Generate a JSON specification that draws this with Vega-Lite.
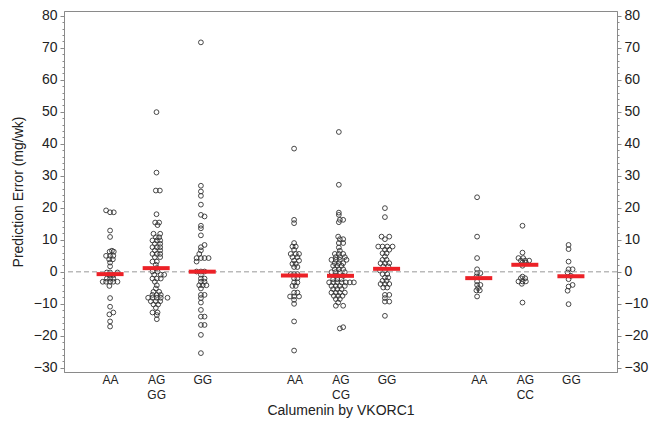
{
  "$schema": "https://vega.github.io/schema/vega-lite/v6.json",
  "width": 553,
  "height": 361,
  "autosize": "none",
  "padding": {"left": 64, "top": 11, "right": 33, "bottom": 50},
  "background": "white",
  "config": {
    "font": "Liberation Sans",
    "view": {"stroke": "#8a8a8a", "strokeWidth": 1}
  },
  "datasets": {
    "points": [
      {"x":0.913,"y":19.2},{"x":1.0,"y":18.6},{"x":1.08,"y":18.6},
      {"x":1.0,"y":12.9},{"x":1.0,"y":10.9},
      {"x":0.99,"y":6.3},{"x":1.04,"y":6.6},{"x":1.08,"y":6.3},
      {"x":0.913,"y":5.0},{"x":1.0,"y":5.0},{"x":1.07,"y":5.0},
      {"x":0.98,"y":3.9},{"x":1.06,"y":3.9},
      {"x":1.0,"y":2.9},{"x":1.0,"y":1.7},
      {"x":0.93,"y":-0.2},{"x":1.0,"y":-0.2},{"x":1.16,"y":-0.2},
      {"x":0.985,"y":-1.0},{"x":1.07,"y":-1.0},
      {"x":0.93,"y":-2.1},{"x":1.0,"y":-2.1},{"x":1.07,"y":-2.1},
      {"x":0.84,"y":-3.1},{"x":0.913,"y":-3.1},{"x":1.0,"y":-3.1},{"x":1.07,"y":-3.1},{"x":1.16,"y":-3.1},
      {"x":0.985,"y":-4.4},{"x":1.0,"y":-8.2},{"x":1.0,"y":-10.9},{"x":1.07,"y":-12.7},{"x":0.985,"y":-13.3},{"x":1.0,"y":-15.5},{"x":1.0,"y":-17.1},

      {"x":2.007,"y":49.9},{"x":2.007,"y":31.0},{"x":1.993,"y":25.4},{"x":2.08,"y":25.4},
      {"x":2.007,"y":18.0},
      {"x":1.978,"y":15.4},{"x":2.065,"y":15.4},{"x":2.03,"y":14.6},
      {"x":1.942,"y":11.9},{"x":2.087,"y":11.9},
      {"x":1.993,"y":10.8},{"x":2.065,"y":10.8},
      {"x":1.92,"y":9.8},{"x":2.014,"y":9.8},{"x":2.087,"y":9.8},
      {"x":1.971,"y":8.75},{"x":2.087,"y":8.75},
      {"x":1.92,"y":7.7},{"x":2.014,"y":7.7},{"x":2.087,"y":7.7},
      {"x":1.971,"y":6.7},{"x":2.087,"y":6.7},
      {"x":1.92,"y":5.6},{"x":2.014,"y":5.6},{"x":2.087,"y":5.6},
      {"x":1.971,"y":4.6},{"x":2.087,"y":4.6},
      {"x":1.92,"y":3.2},{"x":2.014,"y":3.2},
      {"x":1.993,"y":2.2},{"x":2.014,"y":1.2},
      {"x":1.92,"y":0.1},{"x":2.03,"y":0.1},
      {"x":1.957,"y":-0.9},{"x":2.1,"y":-0.9},{"x":2.174,"y":-0.9},
      {"x":1.92,"y":-2.1},{"x":2.014,"y":-2.1},{"x":2.1,"y":-2.1},
      {"x":1.971,"y":-3.1},{"x":2.014,"y":-4.2},{"x":1.993,"y":-5.2},
      {"x":1.942,"y":-6.25},{"x":2.065,"y":-6.25},
      {"x":1.92,"y":-7.2},{"x":2.014,"y":-7.2},{"x":2.1,"y":-7.2},
      {"x":1.826,"y":-8.1},{"x":1.92,"y":-8.1},{"x":2.014,"y":-8.1},{"x":2.1,"y":-8.1},{"x":2.246,"y":-8.1},
      {"x":1.884,"y":-9.2},{"x":1.993,"y":-9.2},{"x":2.087,"y":-9.2},
      {"x":1.942,"y":-10.2},{"x":2.043,"y":-10.2},
      {"x":1.993,"y":-11.25},
      {"x":1.92,"y":-12.7},{"x":2.03,"y":-12.7},
      {"x":2.014,"y":-13.5},{"x":2.014,"y":-14.8},

      {"x":2.971,"y":71.7},{"x":2.971,"y":26.9},{"x":2.971,"y":25.1},{"x":2.971,"y":23.75},{"x":2.971,"y":21.0},
      {"x":2.971,"y":17.8},{"x":3.05,"y":17.3},
      {"x":2.971,"y":14.4},{"x":2.971,"y":13.6},{"x":2.971,"y":11.4},
      {"x":3.05,"y":8.4},{"x":2.971,"y":7.7},{"x":2.971,"y":6.7},{"x":2.935,"y":5.6},
      {"x":2.877,"y":4.3},{"x":2.971,"y":4.3},{"x":3.05,"y":4.3},{"x":3.138,"y":4.3},
      {"x":2.877,"y":3.2},
      {"x":2.877,"y":0.1},{"x":2.971,"y":0.1},{"x":3.05,"y":0.1},
      {"x":2.971,"y":-0.9},
      {"x":2.971,"y":-2.1},{"x":3.05,"y":-2.1},
      {"x":2.971,"y":-3.1},{"x":3.05,"y":-3.1},
      {"x":2.935,"y":-4.2},{"x":3.01,"y":-4.2},{"x":3.09,"y":-4.2},
      {"x":2.971,"y":-5.2},
      {"x":2.971,"y":-7.2},{"x":3.05,"y":-7.2},
      {"x":2.971,"y":-8.2},{"x":2.971,"y":-9.6},{"x":2.971,"y":-11.9},
      {"x":2.971,"y":-14.0},{"x":3.05,"y":-14.0},
      {"x":2.971,"y":-16.6},{"x":3.05,"y":-16.6},
      {"x":2.971,"y":-19.7},{"x":2.971,"y":-25.4},

      {"x":4.993,"y":38.5},{"x":4.993,"y":16.25},{"x":4.993,"y":15.2},{"x":4.993,"y":9.0},
      {"x":4.957,"y":7.9},{"x":5.029,"y":7.9},
      {"x":4.993,"y":6.9},
      {"x":4.92,"y":5.6},{"x":5.029,"y":5.6},{"x":5.1,"y":5.6},
      {"x":4.957,"y":4.6},{"x":5.065,"y":4.6},
      {"x":4.993,"y":3.5},{"x":5.1,"y":3.5},
      {"x":4.957,"y":2.5},{"x":5.029,"y":2.5},
      {"x":4.993,"y":1.5},{"x":5.065,"y":1.5},
      {"x":4.92,"y":-0.7},{"x":4.993,"y":-0.7},{"x":5.065,"y":-0.7},
      {"x":4.993,"y":-2.0},{"x":5.065,"y":-2.0},
      {"x":4.993,"y":-3.3},{"x":5.065,"y":-3.3},
      {"x":4.957,"y":-4.4},{"x":5.029,"y":-4.4},
      {"x":4.993,"y":-6.5},{"x":5.065,"y":-6.5},
      {"x":4.906,"y":-7.7},{"x":4.993,"y":-7.7},{"x":5.1,"y":-7.7},
      {"x":4.993,"y":-8.75},{"x":4.993,"y":-10.0},{"x":4.993,"y":-15.5},{"x":4.993,"y":-24.6},

      {"x":5.964,"y":43.7},{"x":5.964,"y":27.2},{"x":5.964,"y":18.5},{"x":5.964,"y":17.8},
      {"x":5.986,"y":16.25},{"x":6.058,"y":16.25},{"x":5.964,"y":15.5},
      {"x":5.949,"y":11.0},
      {"x":5.986,"y":10.2},{"x":6.058,"y":10.2},
      {"x":5.964,"y":9.0},{"x":6.058,"y":9.0},
      {"x":5.964,"y":7.6},{"x":5.986,"y":6.6},
      {"x":5.877,"y":5.6},{"x":5.964,"y":5.6},{"x":6.058,"y":5.6},
      {"x":5.899,"y":4.6},{"x":5.986,"y":4.6},{"x":6.094,"y":4.6},
      {"x":5.804,"y":3.75},{"x":5.899,"y":3.75},{"x":5.986,"y":3.75},{"x":6.13,"y":3.75},
      {"x":5.877,"y":2.7},{"x":5.964,"y":2.7},{"x":6.058,"y":2.7},
      {"x":5.841,"y":1.9},{"x":5.928,"y":1.9},{"x":6.022,"y":1.9},
      {"x":5.877,"y":0.8},{"x":5.964,"y":0.8},{"x":6.058,"y":0.8},
      {"x":5.804,"y":-0.1},{"x":5.899,"y":-0.1},{"x":5.986,"y":-0.1},{"x":6.094,"y":-0.1},
      {"x":5.899,"y":-1.25},{"x":6.058,"y":-1.25},
      {"x":5.841,"y":-2.3},{"x":5.928,"y":-2.3},{"x":6.022,"y":-2.3},
      {"x":5.754,"y":-3.3},{"x":5.841,"y":-3.3},{"x":5.928,"y":-3.3},{"x":6.022,"y":-3.3},{"x":6.116,"y":-3.3},{"x":6.203,"y":-3.3},{"x":6.29,"y":-3.3},
      {"x":5.804,"y":-4.4},{"x":5.899,"y":-4.4},{"x":5.986,"y":-4.4},{"x":6.094,"y":-4.4},
      {"x":5.841,"y":-5.4},{"x":5.928,"y":-5.4},{"x":6.022,"y":-5.4},
      {"x":5.804,"y":-6.5},{"x":5.899,"y":-6.5},{"x":5.986,"y":-6.5},{"x":6.094,"y":-6.5},
      {"x":5.855,"y":-7.5},{"x":5.949,"y":-7.5},{"x":6.043,"y":-7.5},
      {"x":5.899,"y":-8.5},{"x":5.986,"y":-8.5},
      {"x":5.949,"y":-9.6},
      {"x":5.899,"y":-10.6},{"x":6.058,"y":-10.6},
      {"x":5.986,"y":-17.7},{"x":6.058,"y":-17.3},

      {"x":6.964,"y":19.9},{"x":6.964,"y":17.1},
      {"x":6.891,"y":11.0},{"x":7.058,"y":11.0},
      {"x":6.964,"y":10.2},
      {"x":6.819,"y":7.9},{"x":6.913,"y":7.9},{"x":7.014,"y":7.9},{"x":7.13,"y":7.9},
      {"x":6.964,"y":6.9},{"x":7.058,"y":6.9},
      {"x":6.913,"y":5.8},{"x":7.0,"y":5.8},
      {"x":6.964,"y":4.8},
      {"x":6.913,"y":3.75},{"x":7.0,"y":3.75},
      {"x":6.87,"y":2.7},{"x":6.964,"y":2.7},{"x":7.058,"y":2.7},
      {"x":6.928,"y":1.7},{"x":7.036,"y":1.7},
      {"x":6.855,"y":0.4},{"x":6.964,"y":0.4},
      {"x":6.913,"y":-0.7},{"x":7.014,"y":-0.7},
      {"x":6.964,"y":-1.8},{"x":7.036,"y":-1.8},
      {"x":6.913,"y":-2.8},{"x":7.0,"y":-2.8},
      {"x":6.87,"y":-3.8},{"x":6.964,"y":-3.8},{"x":7.058,"y":-3.8},
      {"x":6.928,"y":-4.9},{"x":7.014,"y":-4.9},
      {"x":6.964,"y":-7.2},{"x":7.058,"y":-7.2},
      {"x":6.964,"y":-8.2},
      {"x":6.964,"y":-9.3},{"x":7.058,"y":-9.3},
      {"x":6.964,"y":-13.75},

      {"x":8.964,"y":23.3},{"x":8.964,"y":11.0},{"x":8.964,"y":4.3},{"x":8.964,"y":0.8},
      {"x":8.964,"y":-0.4},{"x":9.036,"y":-0.4},
      {"x":8.949,"y":-1.5},{"x":8.964,"y":-3.0},
      {"x":8.964,"y":-4.1},{"x":9.036,"y":-4.1},
      {"x":8.986,"y":-5.1},
      {"x":8.949,"y":-5.8},{"x":9.022,"y":-5.8},
      {"x":8.964,"y":-7.7},

      {"x":9.949,"y":14.4},{"x":9.949,"y":6.0},
      {"x":9.862,"y":4.3},{"x":9.964,"y":4.3},
      {"x":9.913,"y":3.5},{"x":10.007,"y":3.5},{"x":10.094,"y":3.5},
      {"x":9.949,"y":2.9},{"x":10.022,"y":2.9},
      {"x":9.949,"y":1.9},
      {"x":9.949,"y":-1.5},
      {"x":9.913,"y":-2.0},{"x":10.007,"y":-2.0},
      {"x":9.862,"y":-3.0},{"x":9.949,"y":-3.0},{"x":10.022,"y":-3.0},
      {"x":9.935,"y":-3.75},
      {"x":9.949,"y":-9.6},

      {"x":10.949,"y":8.4},{"x":10.949,"y":7.1},{"x":10.949,"y":3.2},
      {"x":10.949,"y":0.8},{"x":11.036,"y":0.8},
      {"x":10.928,"y":-0.2},{"x":11.0,"y":-1.25},{"x":10.949,"y":-2.3},
      {"x":11.036,"y":-4.1},{"x":10.949,"y":-4.6},{"x":10.928,"y":-5.9},{"x":10.949,"y":-10.1}
    ],
    "medians": [
      {"x":1,"y":-0.72},{"x":2,"y":1.15},{"x":3,"y":0.05},
      {"x":5,"y":-1.15},{"x":6,"y":-1.25},{"x":7,"y":0.94},
      {"x":9,"y":-1.97},{"x":10,"y":2.2},{"x":11,"y":-1.35}
    ]
  },
  "layer": [
    {
      "data": {"name": "points"},
      "mark": {"type": "point", "shape": "circle", "filled": false, "stroke": "#333333", "strokeWidth": 0.9, "size": 23, "opacity": 1},
      "encoding": {
        "x": {
          "field": "x", "type": "quantitative",
          "scale": {"domain": [0, 12], "nice": false, "zero": false},
          "axis": {
            "values": [1, 2, 3, 5, 6, 7, 9, 10, 11],
            "labelExpr": "datum.value == 2 ? ['AG','GG'] : datum.value == 6 ? ['AG','CG'] : datum.value == 10 ? ['AG','CC'] : (datum.value == 1 || datum.value == 5 || datum.value == 9) ? 'AA' : 'GG'",
            "ticks": false, "grid": false, "labelFlush": false, "labelOverlap": false,
            "labelFontSize": 12, "labelPadding": 2, "labelLineHeight": 15, "labelColor": "#222222",
            "domainColor": "#8a8a8a",
            "title": "Calumenin by VKORC1", "titleFontSize": 14, "titleFontWeight": "normal", "titleColor": "#222222", "titlePadding": 3
          }
        },
        "y": {
          "field": "y", "type": "quantitative",
          "scale": {"domain": [-31.3, 81.5], "nice": false, "zero": false},
          "axis": {
            "orient": "left",
            "values": [-30,-28,-26,-24,-22,-20,-18,-16,-14,-12,-10,-8,-6,-4,-2,0,2,4,6,8,10,12,14,16,18,20,22,24,26,28,30,32,34,36,38,40,42,44,46,48,50,52,54,56,58,60,62,64,66,68,70,72,74,76,78,80],
            "labelExpr": "datum.value % 10 === 0 ? datum.label : ''",
            "tickSize": {"condition": {"test": "datum.value % 10 === 0", "value": 4}, "value": 2},
            "labelOverlap": false, "labelFlush": false, "grid": false,
            "labelFontSize": 14, "labelPadding": 3, "labelColor": "#222222",
            "domainColor": "#8a8a8a", "tickColor": "#8a8a8a",
            "title": "Prediction Error (mg/wk)", "titleFontSize": 14, "titleFontWeight": "normal", "titleColor": "#222222", "titlePadding": 8
          }
        }
      }
    },
    {
      "data": {"values": [{}]},
      "mark": {"type": "rule", "color": "#999999", "strokeWidth": 1, "strokeDash": [5, 3]},
      "encoding": {
        "y": {
          "datum": 0, "type": "quantitative",
          "scale": {"domain": [-31.3, 81.5], "nice": false, "zero": false},
          "axis": {
            "orient": "right",
            "values": [-30,-28,-26,-24,-22,-20,-18,-16,-14,-12,-10,-8,-6,-4,-2,0,2,4,6,8,10,12,14,16,18,20,22,24,26,28,30,32,34,36,38,40,42,44,46,48,50,52,54,56,58,60,62,64,66,68,70,72,74,76,78,80],
            "labelExpr": "datum.value % 10 === 0 ? datum.label : ''",
            "tickSize": {"condition": {"test": "datum.value % 10 === 0", "value": 4}, "value": 2},
            "labelOverlap": false, "labelFlush": false, "grid": false,
            "labelFontSize": 14, "labelPadding": 3, "labelColor": "#222222",
            "domainColor": "#8a8a8a", "tickColor": "#8a8a8a",
            "title": null
          }
        }
      }
    },
    {
      "data": {"name": "medians"},
      "mark": {"type": "tick", "orient": "horizontal", "color": "#ec2127", "size": 27, "thickness": 4, "opacity": 1},
      "encoding": {
        "x": {
          "field": "x", "type": "quantitative",
          "axis": {
            "values": [1, 2, 3, 5, 6, 7, 9, 10, 11],
            "labelExpr": "datum.value == 2 ? ['AG','GG'] : datum.value == 6 ? ['AG','CG'] : datum.value == 10 ? ['AG','CC'] : (datum.value == 1 || datum.value == 5 || datum.value == 9) ? 'AA' : 'GG'",
            "ticks": false, "grid": false, "labelFlush": false, "labelOverlap": false,
            "labelFontSize": 12, "labelPadding": 2, "labelLineHeight": 15, "labelColor": "#222222",
            "domainColor": "#8a8a8a",
            "title": "Calumenin by VKORC1", "titleFontSize": 14, "titleFontWeight": "normal", "titleColor": "#222222", "titlePadding": 3
          }
        },
        "y": {"field": "y", "type": "quantitative", "axis": null}
      }
    }
  ],
  "resolve": {"axis": {"y": "independent"}}
}
